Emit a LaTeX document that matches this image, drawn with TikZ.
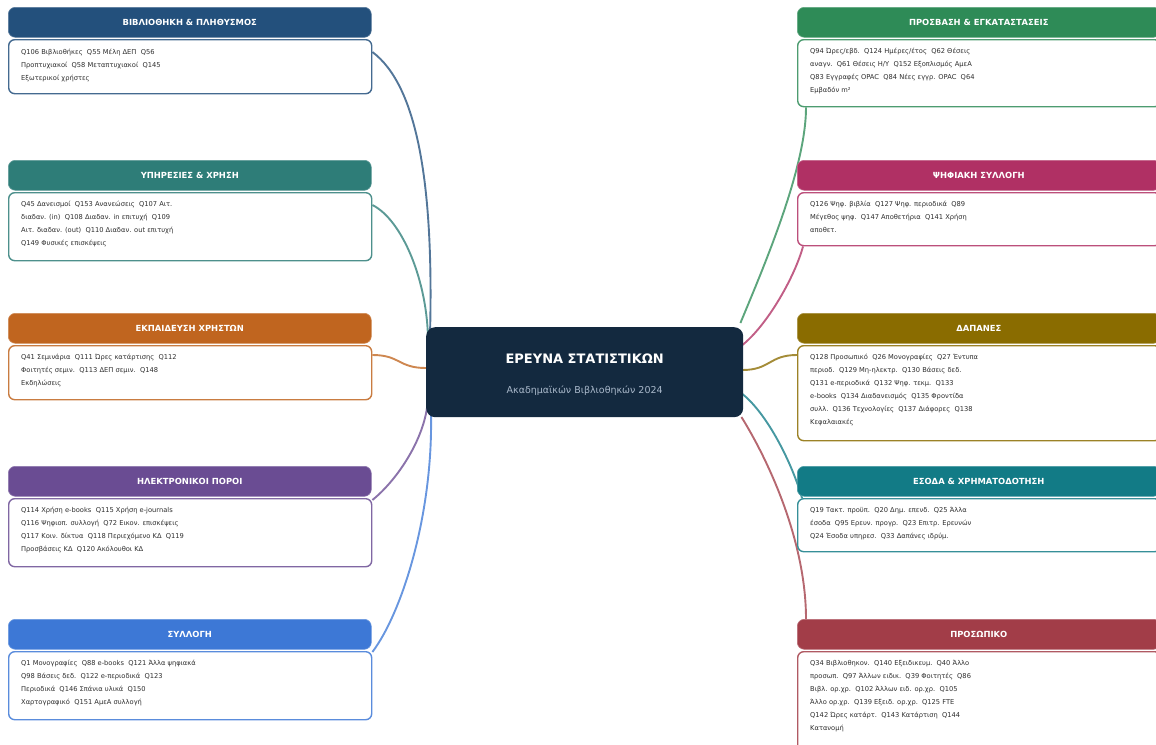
\documentclass[tikz,border=0pt]{standalone}
\usepackage{fontspec}
\setmainfont{DejaVu Sans}
\usetikzlibrary{calc,backgrounds}
\definecolor{navy}{HTML}{13293F}
\definecolor{subt}{HTML}{A9B8CA}
\definecolor{tgray}{HTML}{2E2E2E}
\definecolor{cA}{HTML}{23507C}
\definecolor{cB}{HTML}{2E7D78}
\definecolor{cC}{HTML}{C0651F}
\definecolor{cD}{HTML}{6A4C93}
\definecolor{cE}{HTML}{3D78D6}
\definecolor{cF}{HTML}{2E8B57}
\definecolor{cG}{HTML}{B03064}
\definecolor{cH}{HTML}{8A6C00}
\definecolor{cI}{HTML}{127B86}
\definecolor{cJ}{HTML}{A23D48}
\newcommand\gp{\hspace{0.64em}}
\tikzset{
  hdr/.style={rectangle, rounded corners=7pt, anchor=north west, minimum width=363pt, minimum height=30pt, inner sep=0pt, text=white, font=\fontsize{8.4}{10}\selectfont\bfseries, fill=#1, draw=#1!75!white, line width=0.6pt},
  bodybox/.style={rectangle, rounded corners=6pt, anchor=north west, minimum width=363pt, fill=white, draw=#1!85!white, line width=1.4pt, inner sep=0pt},
  btext/.style={anchor=base west, inner sep=0pt, text=tgray, font=\fontsize{6.7}{13}\selectfont},
  conn/.style={line width=1.9pt, draw=#1!78!white},
}
\begin{document}
\begin{tikzpicture}[x=1pt,y=-1pt]
\useasboundingbox (0,0) rectangle (1156,744);
% centre
\node[rectangle, rounded corners=9pt, fill=navy, minimum width=317pt, minimum height=90pt, anchor=north west, inner sep=0pt] (ctr) at (426,327) {};
\node[font=\fontsize{13}{15}\selectfont\bfseries, text=white] (ttl) at ($(ctr.north)+(0,32)$) {ΕΡΕΥΝΑ ΣΤΑΤΙΣΤΙΚΩΝ};
\node[font=\fontsize{9.5}{11}\selectfont, text=subt] (sub) at ($(ctr.north)+(0,64)$) {Ακαδημαϊκών Βιβλιοθηκών 2024};
% left column
\node[hdr=cA] (h1) at (8,7) {ΒΙΒΛΙΟΘΗΚΗ \& ΠΛΗΘΥΣΜΟΣ};
\node[bodybox=cA, minimum height=54pt] (b1) at (8,39) {};
\node[btext] (t1) at ($(b1.north west)+(13,15.5)$) {\parbox[t]{340pt}{\raggedright
Q106 Βιβλιοθήκες\gp Q55 Μέλη ΔΕΠ\gp Q56\\
Προπτυχιακοί\gp Q58 Μεταπτυχιακοί\gp Q145\\
Εξωτερικοί χρήστες}};

\node[hdr=cB] (h2) at (8,160) {ΥΠΗΡΕΣΙΕΣ \& ΧΡΗΣΗ};
\node[bodybox=cB, minimum height=68pt] (b2) at (8,192) {};
\node[btext] (t2) at ($(b2.north west)+(13,14.5)$) {\parbox[t]{340pt}{\raggedright
Q45 Δανεισμοί\gp Q153 Ανανεώσεις\gp Q107 Αιτ.\\
διαδαν. (in)\gp Q108 Διαδαν. in επιτυχή\gp Q109\\
Αιτ. διαδαν. (out)\gp Q110 Διαδαν. out επιτυχή\\
Q149 Φυσικές επισκέψεις}};

\node[hdr=cC] (h3) at (8,313) {ΕΚΠΑΙΔΕΥΣΗ ΧΡΗΣΤΩΝ};
\node[bodybox=cC, minimum height=54pt] (b3) at (8,345) {};
\node[btext] (t3) at ($(b3.north west)+(13,14.5)$) {\parbox[t]{340pt}{\raggedright
Q41 Σεμινάρια\gp Q111 Ώρες κατάρτισης\gp Q112\\
Φοιτητές σεμιν.\gp Q113 ΔΕΠ σεμιν.\gp Q148\\
Εκδηλώσεις}};

\node[hdr=cD] (h4) at (8,466) {ΗΛΕΚΤΡΟΝΙΚΟΙ ΠΟΡΟΙ};
\node[bodybox=cD, minimum height=68pt] (b4) at (8,498) {};
\node[btext] (t4) at ($(b4.north west)+(13,14.5)$) {\parbox[t]{340pt}{\raggedright
Q114 Χρήση e-books\gp Q115 Χρήση e-journals\\
Q116 Ψηφιοπ. συλλογή\gp Q72 Εικον. επισκέψεις\\
Q117 Κοιν. δίκτυα\gp Q118 Περιεχόμενο ΚΔ\gp Q119\\
Προσβάσεις ΚΔ\gp Q120 Ακόλουθοι ΚΔ}};

\node[hdr=cE] (h5) at (8,619) {ΣΥΛΛΟΓΗ};
\node[bodybox=cE, minimum height=68pt] (b5) at (8,651) {};
\node[btext] (t5) at ($(b5.north west)+(13,14.5)$) {\parbox[t]{340pt}{\raggedright
Q1 Μονογραφίες\gp Q88 e-books\gp Q121 Άλλα ψηφιακά\\
Q98 Βάσεις δεδ.\gp Q122 e-περιοδικά\gp Q123\\
Περιοδικά\gp Q146 Σπάνια υλικά\gp Q150\\
Χαρτογραφικό\gp Q151 ΑμεΑ συλλογή}};
% right column
\node[hdr=cF] (h6) at (797,7) {ΠΡΟΣΒΑΣΗ \& ΕΓΚΑΤΑΣΤΑΣΕΙΣ};
\node[bodybox=cF, minimum height=67pt] (b6) at (797,39) {};
\node[btext] (t6) at ($(b6.north west)+(13,14.5)$) {\parbox[t]{340pt}{\raggedright
Q94 Ώρες/εβδ.\gp Q124 Ημέρες/έτος\gp Q62 Θέσεις\\
αναγν.\gp Q61 Θέσεις Η/Υ\gp Q152 Εξοπλισμός ΑμεΑ\\
Q83 Εγγραφές OPAC\gp Q84 Νέες εγγρ. OPAC\gp Q64\\
Εμβαδόν m²}};

\node[hdr=cG] (h7) at (797,160) {ΨΗΦΙΑΚΗ ΣΥΛΛΟΓΗ};
\node[bodybox=cG, minimum height=53pt] (b7) at (797,192) {};
\node[btext] (t7) at ($(b7.north west)+(13,14.5)$) {\parbox[t]{340pt}{\raggedright
Q126 Ψηφ. βιβλία\gp Q127 Ψηφ. περιοδικά\gp Q89\\
Μέγεθος ψηφ.\gp Q147 Αποθετήρια\gp Q141 Χρήση\\
αποθετ.}};

\node[hdr=cH] (h8) at (797,313) {ΔΑΠΑΝΕΣ};
\node[bodybox=cH, minimum height=95pt] (b8) at (797,345) {};
\node[btext] (t8) at ($(b8.north west)+(13,14.5)$) {\parbox[t]{340pt}{\raggedright
Q128 Προσωπικό\gp Q26 Μονογραφίες\gp Q27 Έντυπα\\
περιοδ.\gp Q129 Μη-ηλεκτρ.\gp Q130 Βάσεις δεδ.\\
Q131 e-περιοδικά\gp Q132 Ψηφ. τεκμ.\gp Q133\\
e-books\gp Q134 Διαδανεισμός\gp Q135 Φροντίδα\\
συλλ.\gp Q136 Τεχνολογίες\gp Q137 Διάφορες\gp Q138\\
Κεφαλαιακές}};

\node[hdr=cI] (h9) at (797,466) {ΕΣΟΔΑ \& ΧΡΗΜΑΤΟΔΟΤΗΣΗ};
\node[bodybox=cI, minimum height=53pt] (b9) at (797,498) {};
\node[btext] (t9) at ($(b9.north west)+(13,14.5)$) {\parbox[t]{340pt}{\raggedright
Q19 Τακτ. προϋπ.\gp Q20 Δημ. επενδ.\gp Q25 Άλλα\\
έσοδα\gp Q95 Ερευν. προγρ.\gp Q23 Επιτρ. Ερευνών\\
Q24 Έσοδα υπηρεσ.\gp Q33 Δαπάνες ιδρύμ.}};

\node[hdr=cJ] (h10) at (797,619) {ΠΡΟΣΩΠΙΚΟ};
\node[bodybox=cJ, minimum height=100pt] (b10) at (797,651) {};
\node[btext] (t10) at ($(b10.north west)+(13,14.5)$) {\parbox[t]{340pt}{\raggedright
Q34 Βιβλιοθηκον.\gp Q140 Εξειδικευμ.\gp Q40 Άλλο\\
προσωπ.\gp Q97 Άλλων ειδικ.\gp Q39 Φοιτητές\gp Q86\\
Βιβλ. ορ.χρ.\gp Q102 Άλλων ειδ. ορ.χρ.\gp Q105\\
Άλλο ορ.χρ.\gp Q139 Εξειδ. ορ.χρ.\gp Q125 FTE\\
Q142 Ώρες κατάρτ.\gp Q143 Κατάρτιση\gp Q144\\
Κατανομή}};
% connectors
\begin{scope}[on background layer]
\draw[conn=cA] ($(ctr.north west)+(4,8)$) .. controls +(4,-155) and +(44,33) .. ($(b1.north east)+(0,13)$);
\draw[conn=cB] ($(ctr.north west)+(2,15)$) .. controls +(0,-60) and +(30,15) .. ($(b2.north east)+(0,13)$);
\draw[conn=cC] ($(ctr.north west)+(0,41)$) .. controls +(-28,0) and +(28,0) .. ($(b3.north east)+(0,10)$);
\draw[conn=cD] ($(ctr.north west)+(2,68)$) .. controls +(0,40) and +(25,-20) .. ($(b4.north east)+(0,2)$);
\draw[conn=cE] ($(ctr.north west)+(5,87)$) .. controls +(2,100) and +(30,-40) .. ($(b5.north east)+(0,1)$);
\draw[conn=cF] ($(ctr.north east)+(-3,-4)$) .. controls +(25,-60) and +(0,60) .. ($(b6.south west)+(9,0)$);
\draw[conn=cG] ($(ctr.north east)+(-1,18)$) .. controls +(25,-20) and +(-8,30) .. ($(b7.south west)+(6,0)$);
\draw[conn=cH] ($(ctr.north east)+(-1,43)$) .. controls +(28,0) and +(-28,0) .. ($(b8.north west)+(0,10)$);
\draw[conn=cI] ($(ctr.north east)+(-1,67)$) .. controls +(25,20) and +(-10,-35) .. ($(b9.north west)+(5,0)$);
\draw[conn=cJ] ($(ctr.north east)+(-2,90)$) .. controls +(25,40) and +(0,-80) .. ($(h10.north west)+(9,0)$);
\end{scope}
\end{tikzpicture}
\end{document}
